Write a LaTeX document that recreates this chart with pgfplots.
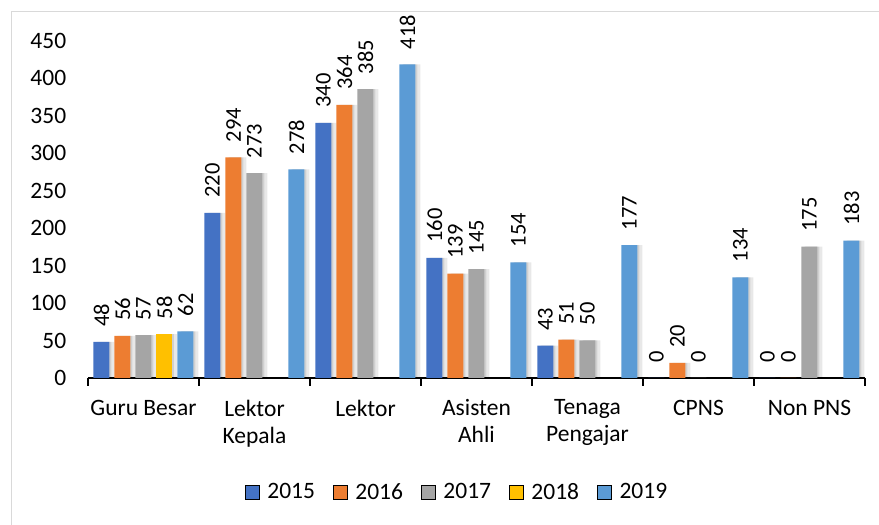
\documentclass[border=0pt]{standalone}
\usepackage{fontspec}
\setmainfont{Carlito}
\usepackage{pgfplots}
\pgfplotsset{compat=1.18}
\definecolor{cA}{HTML}{4472C4}
\definecolor{cB}{HTML}{ED7D31}
\definecolor{cC}{HTML}{A5A5A5}
\definecolor{cD}{HTML}{FFC000}
\definecolor{cE}{HTML}{5B9BD5}
\pgfplotstableread{
x a b c e
0 48 56 57 62
1 220 294 273 278
2 340 364 385 418
3 160 139 145 154
4 43 51 50 177
5 0 20 0 134
6 0 0 175 183
}\datatable
\pgfplotstableread{
x d
0 58
}\dtable
\pgfplotsset{
  shad/.style={fill=black, fill opacity=0.09, draw=none, forget plot, bar width=18pt},
  shadb/.style={fill=black, fill opacity=0.10, draw=none, forget plot, bar width=14pt},
  mainbar/.style={draw=none, forget plot, nodes near coords,
    every node near coord/.append style={rotate=90, anchor=west, text=black, inner xsep=15pt, font=\fontsize{22.5}{26}\selectfont}},
}
\begin{document}
\begin{tikzpicture}
\useasboundingbox (0,0) rectangle (879pt,525pt);
\draw[color=black!15, line width=1pt] (11.5pt,-10pt) rectangle (895pt,513.5pt);
\begin{axis}[
  at={(88pt,147pt)}, anchor=south west,
  width=777pt, height=337.5pt, scale only axis,
  xmin=-0.5, xmax=6.5, ymin=0, ymax=450,
  ybar, bar width=16pt,
  axis x line*=bottom, axis y line*=left,
  y axis line style={draw=none},
  x axis line style={line width=1.2pt, -},
  ytick={0,50,...,450},
  ytick style={draw=none},
  xtick={0,...,6},
  major x tick style={draw=none},
  minor xtick={-0.5,0.5,...,6.5},
  minor x tick style={black, line width=1.2pt},
  minor tick length=8pt,
  tick align=outside,
  xticklabels={Guru Besar, {Lektor\\Kepala}, Lektor, {Asisten\\Ahli}, {Tenaga\\Pengajar}, CPNS, {Non PNS}},
  xticklabel style={align=center, font=\fontsize{23.5}{27}\selectfont, yshift=-14pt},
  yticklabel style={font=\fontsize{23.5}{27}\selectfont, xshift=-14pt},
  /pgf/number format/assume math mode=true,
  legend columns=5,
  legend style={at={(0.475,-0.338)}, anchor=center, draw=none, font=\fontsize{23.5}{27}\selectfont,
    /tikz/every odd column/.append style={column sep=6pt},
    /tikz/every even column/.append style={column sep=16pt}},
  legend image code/.code={\fill[#1] (0pt,-7pt) rectangle (14pt,7pt);},
]
\addlegendimage{fill=cA}\addlegendentry{2015}
\addlegendimage{fill=cB}\addlegendentry{2016}
\addlegendimage{fill=cC}\addlegendentry{2017}
\addlegendimage{fill=cD}\addlegendentry{2018}
\addlegendimage{fill=cE}\addlegendentry{2019}
% soft shadows
\addplot[shad, bar shift=-38pt] table[x=x,y=a] {\datatable};
\addplot[shad, bar shift=-17pt] table[x=x,y=b] {\datatable};
\addplot[shad, bar shift=4pt] table[x=x,y=c] {\datatable};
\addplot[shad, bar shift=25pt] table[x=x,y=d] {\dtable};
\addplot[shad, bar shift=46pt] table[x=x,y=e] {\datatable};
\addplot[shadb, bar shift=-39pt] table[x=x,y=a] {\datatable};
\addplot[shadb, bar shift=-18pt] table[x=x,y=b] {\datatable};
\addplot[shadb, bar shift=3pt] table[x=x,y=c] {\datatable};
\addplot[shadb, bar shift=24pt] table[x=x,y=d] {\dtable};
\addplot[shadb, bar shift=45pt] table[x=x,y=e] {\datatable};
% bars
\addplot[mainbar, fill=cA, bar shift=-42pt] table[x=x,y=a] {\datatable};
\addplot[mainbar, fill=cB, bar shift=-21pt] table[x=x,y=b] {\datatable};
\addplot[mainbar, fill=cC, bar shift=0pt] table[x=x,y=c] {\datatable};
\addplot[mainbar, fill=cD, bar shift=21pt] table[x=x,y=d] {\dtable};
\addplot[mainbar, fill=cE, bar shift=42pt] table[x=x,y=e] {\datatable};
\end{axis}
\end{tikzpicture}
\end{document}
